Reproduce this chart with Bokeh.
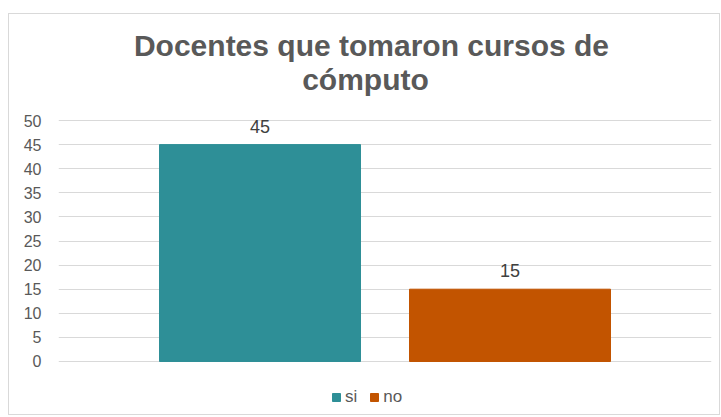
from bokeh.plotting import figure
from bokeh.models import ColumnDataSource, FactorRange, Range1d, Label, LabelSet, Legend, LegendItem, FixedTicker
from bokeh.core.properties import value
from bokeh.embed import file_html
from bokeh.resources import INLINE

categories = ["si", "no"]
values = [45, 15]
colors = ["#2E8F97", "#C25400"]
title_lines = ["Docentes que tomaron cursos de", "cómputo"]
y_ticks = [0, 5, 10, 15, 20, 25, 30, 35, 40, 45, 50]

src = ColumnDataSource(dict(cat=categories, val=values, color=colors,
                            lbl=[str(v) for v in values]))

p = figure(frame_width=653, frame_height=400, output_backend="svg", toolbar_location=None,
           x_range=FactorRange(factors=categories, range_padding=0.306,
                               range_padding_units="absolute"),
           y_range=Range1d(-11, 72),
           min_border_left=49, min_border_right=8, min_border_bottom=0, min_border_top=0,
           margin=(13, 0, 0, 8),
           styles={"border": "1px solid #d9d9d9"})
p.outline_line_color = None
p.background_fill_color = "white"
p.border_fill_color = "white"

r = p.vbar(x="cat", top="val", width=0.804, color="color", source=src)

p.add_layout(LabelSet(x="cat", y="val", text="lbl", source=src, y_offset=12,
                      text_align="center", text_baseline="alphabetic",
                      text_font=value("Liberation Sans"), text_font_size="18px",
                      text_color="#404040"))

p.xaxis.visible = False
p.xgrid.visible = False
p.ygrid.grid_line_color = "#d9d9d9"
p.ygrid.grid_line_width = 1
p.yaxis.ticker = FixedTicker(ticks=y_ticks)
p.yaxis.axis_line_color = None
p.yaxis.major_tick_line_color = None
p.yaxis.minor_tick_line_color = None
p.yaxis.major_tick_out = 0
p.yaxis.major_label_standoff = 17
p.yaxis.major_label_text_font = "Liberation Sans"
p.yaxis.major_label_text_font_size = "16px"
p.yaxis.major_label_text_color = "#595959"

for txt, sx, sy in [(title_lines[0], 313, 369), (title_lines[1], 307, 335)]:
    p.add_layout(Label(text=txt, x=sx, y=sy, x_units="screen", y_units="screen",
                       text_align="center", text_baseline="alphabetic",
                       text_font="Liberation Sans", text_font_size="30px",
                       text_font_style="bold", text_color="#595959"))

legend = Legend(items=[LegendItem(label=dict(field="cat"), renderers=[r])],
                orientation="horizontal", location=(273, 7),
                glyph_width=10, glyph_height=10, label_standoff=4, spacing=12,
                label_width=0,
                padding=0, margin=0, border_line_color=None, background_fill_alpha=0,
                label_text_font="Liberation Sans", label_text_font_size="17px",
                label_text_color="#595959")
p.add_layout(legend, "center")

open("out.html", "w").write(file_html(p, INLINE))
